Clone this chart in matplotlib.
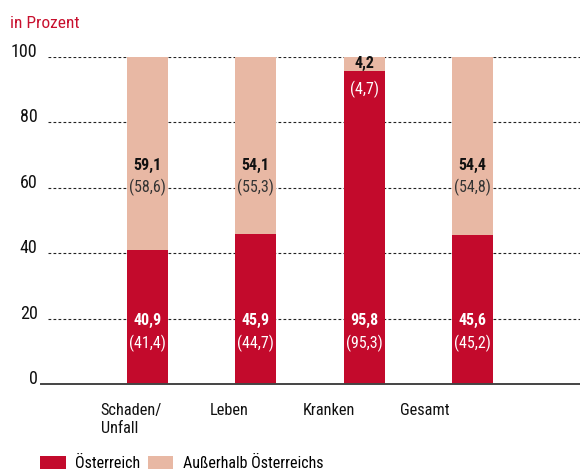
import matplotlib
matplotlib.use("Agg")
import matplotlib.pyplot as plt
from matplotlib.patches import Patch

plt.rcParams['font.family'] = ['Roboto Condensed', 'Roboto', 'DejaVu Sans']

categories = ["Schaden/\nUnfall", "Leben", "Kranken", "Gesamt"]
oesterreich = [40.9, 45.9, 95.8, 45.6]
oesterreich_prev = [41.4, 44.7, 95.3, 45.2]
ausserhalb = [59.1, 54.1, 4.2, 54.4]
ausserhalb_prev = [58.6, 55.3, 4.7, 54.8]
yticks = [0, 20, 40, 60, 80, 100]
legend_labels = ["Österreich", "Außerhalb Österreichs"]

RED = "#c30a2c"
LIGHT = "#e8b8a4"
TITLE_RED = "#c8102e"

fig = plt.figure(figsize=(5.8, 4.7), dpi=100)
ax = fig.add_axes([41/580, 1-384/470, 1-41/580, (384-57)/470])

x = list(range(len(categories)))
w = 0.38
ax.bar(x, oesterreich, width=w, color=RED, zorder=2)
ax.bar(x, ausserhalb, width=w, bottom=oesterreich, color=LIGHT, zorder=2)

ax.set_xlim(-0.98, 3.99)
ax.set_ylim(0, 100)

for y in yticks[1:]:
    ax.axhline(y, xmin=0.013, xmax=1, color="#222222", lw=0.8, ls=(0, (2.5, 2)), zorder=1)

for s in ["top", "right", "left"]:
    ax.spines[s].set_visible(False)
ax.spines["bottom"].set_color("#444444")
ax.spines["bottom"].set_linewidth(1.4)
ax.spines["bottom"].set_zorder(3)

ax.set_yticks(yticks)
ax.set_yticklabels([str(v) for v in yticks])
ax.tick_params(axis="y", length=0, pad=2.5, labelsize=13, labelcolor="#111111")
for lab in ax.get_yticklabels():
    lab.set_va("baseline")
ax.set_xticks([])

def fmt(v):
    return f"{v:.1f}".replace(".", ",")

FS = 11.5
for i in x:
    o, a = oesterreich[i], ausserhalb[i]
    ax.text(i, 19.3, fmt(o), ha="center", va="center", color="white",
            fontsize=FS, fontweight="bold", zorder=4)
    ax.text(i, 12.5, f"({fmt(oesterreich_prev[i])})", ha="center", va="center",
            color="white", fontsize=FS, zorder=4)
    if a > 15:
        ax.text(i, 66.7, fmt(a), ha="center", va="center", color="#111111",
                fontsize=FS, fontweight="bold", zorder=4)
        ax.text(i, 60, f"({fmt(ausserhalb_prev[i])})", ha="center", va="center",
                color="#333333", fontsize=FS, zorder=4)
    else:
        ax.text(i, o + a / 2, fmt(a), ha="center", va="center", color="#111111",
                fontsize=FS, fontweight="bold", zorder=4)
        ax.text(i, 90.2, f"({fmt(ausserhalb_prev[i])})", ha="center", va="center",
                color="white", fontsize=FS, zorder=4)

# category labels
label_x = [-0.43, 0.576, 1.435, 2.331]
for lx, c in zip(label_x, categories):
    ax.text(lx, -0.058, c, transform=ax.get_xaxis_transform(), ha="left", va="top",
            fontsize=11.8, color="#111111", linespacing=1.25)

fig.text(10/580, 1-28.5/470, "in Prozent", color=TITLE_RED, fontsize=12.5,
         ha="left", va="baseline")

handles = [Patch(facecolor=RED, edgecolor="none"), Patch(facecolor=LIGHT, edgecolor="none")]
fig.legend(handles, legend_labels, loc="upper left", bbox_to_anchor=(37/580, 1-453/470),
           ncol=2, frameon=False, fontsize=11.5, handlelength=1.6, handleheight=0.9,
           handletextpad=0.6, columnspacing=0.45, borderaxespad=0, borderpad=0.2)

fig.savefig("out.png", dpi=100)
